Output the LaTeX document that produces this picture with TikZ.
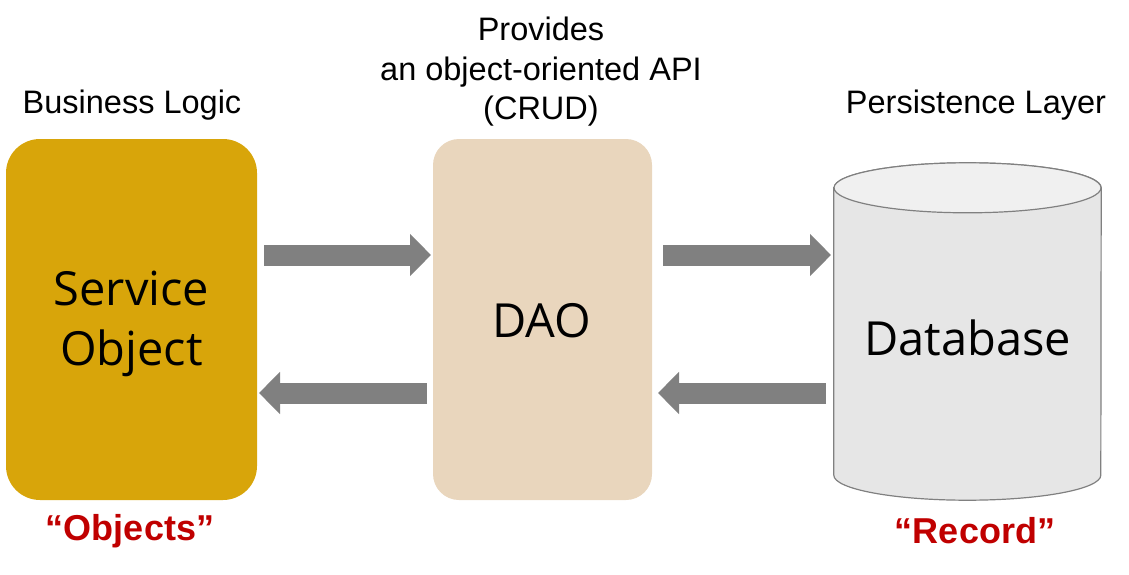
\documentclass[tikz,border=0pt]{standalone}
\usepackage{fontspec}
\setmainfont{Liberation Sans}
\newfontfamily\boxfont{Open Sans}
\usetikzlibrary{arrows.meta}
\definecolor{gold}{RGB}{216,165,10}
\definecolor{daofill}{RGB}{233,214,189}
\definecolor{cylside}{RGB}{230,230,230}
\definecolor{cyltop}{RGB}{240,240,240}
\definecolor{cylline}{RGB}{128,128,128}
\definecolor{arrowgray}{RGB}{128,128,128}
\definecolor{quote}{RGB}{192,0,0}
\tikzset{
  box/.style={rounded corners=#1, inner sep=0pt},
  boxtext/.style={inner sep=0pt, align=center,
    font=\boxfont\fontsize{47}{60}\selectfont},
  lbl/.style={align=center, inner sep=0pt, font=\fontsize{32.5}{39.5}\selectfont},
  qlbl/.style={inner sep=0pt, text=quote, font=\bfseries\fontsize{36}{40}\selectfont},
  bigarrow/.style={draw=arrowgray, line width=21pt,
    -{Triangle[length=21pt,width=41pt]}},
}
\begin{document}
\begin{tikzpicture}[x=1pt,y=-1pt]
\useasboundingbox (0,0) rectangle (1129,575);
% boxes
\node[box=34pt, fill=gold, minimum width=251pt, minimum height=361pt] (so) at (131.5,319.5) {};
\node[boxtext] (sot) at (131.5,324) {Service\\Object};
\node[box=26pt, fill=daofill, minimum width=219pt, minimum height=361pt] (dao) at (542.5,319.5) {};
\node[boxtext] (daot) at (542,321) {DAO};
% cylinder
\node[inner sep=0pt, minimum width=267pt, minimum height=337pt] (db) at (967.5,331.5) {};
\filldraw[fill=cylside, draw=cylline, line width=1.2pt]
  (db.north west) ++(0,25) -- ([yshift=25pt]db.south west)
  arc[start angle=180, end angle=360, x radius=133.5pt, y radius=25pt]
  -- ([yshift=-25pt]db.north east)
  arc[start angle=0, end angle=180, x radius=133.5pt, y radius=25pt] -- cycle;
\filldraw[fill=cyltop, draw=cylline, line width=1.2pt]
  ([yshift=-25pt]db.north) ellipse[x radius=133.5pt, y radius=25pt];
\node[boxtext] (dbt) at (967.5,338) {Database};
% labels
\node[lbl] (bl) at (132,105) {Business Logic};
\node[lbl] (api) at (541,72) {Provides\\an object-oriented API\\(CRUD)};
\node[lbl] (pl) at (976,105) {Persistence Layer};
\node[qlbl] (qo) at (130,531) {“Objects”};
\node[qlbl] (qr) at (975,531) {“Record”};
% arrows
\coordinate (a1s) at (264,255);
\coordinate (a1e) at (431,255);
\coordinate (a2s) at (427,393);
\coordinate (a2e) at (259,393);
\coordinate (a3s) at (663,255);
\coordinate (a3e) at (831,255);
\coordinate (a4s) at (826,393);
\coordinate (a4e) at (658,393);
\draw[bigarrow] (a1s) -- (a1e);
\draw[bigarrow] (a2s) -- (a2e);
\draw[bigarrow] (a3s) -- (a3e);
\draw[bigarrow] (a4s) -- (a4e);
\end{tikzpicture}
\end{document}
